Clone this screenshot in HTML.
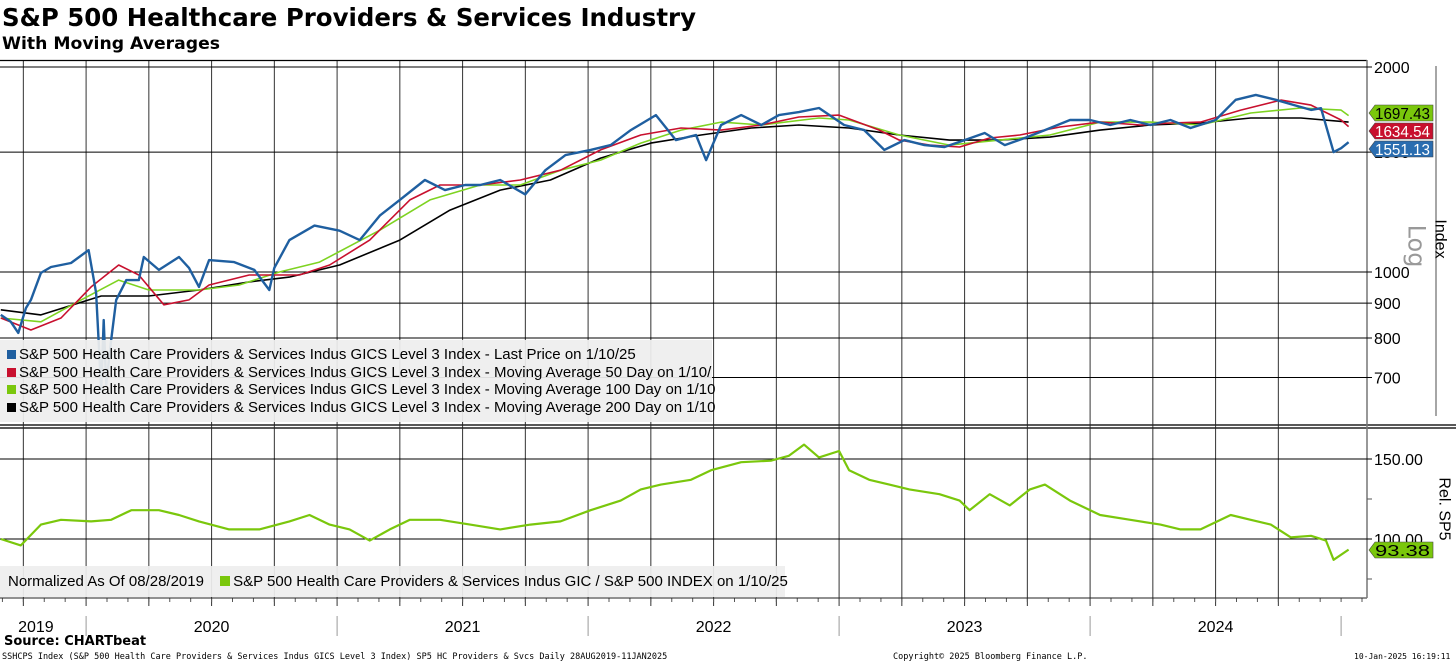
<!DOCTYPE html>
<html><head><meta charset="utf-8">
<style>
html,body{margin:0;padding:0;background:#fff;}
body{width:1456px;height:665px;overflow:hidden;position:relative;font-family:"DejaVu Sans","Liberation Sans",sans-serif;}
svg{position:absolute;left:0;top:0;}
</style></head>
<body>
<svg id="chart" width="1456" height="665" viewBox="0 0 1456 665" xmlns="http://www.w3.org/2000/svg">
<text x="2" y="26" font-family="DejaVu Sans, sans-serif" font-weight="bold" font-size="24.5" fill="#000" textLength="694" lengthAdjust="spacingAndGlyphs">S&amp;P 500 Healthcare Providers &amp; Services Industry</text>
<text x="2" y="49" font-family="DejaVu Sans, sans-serif" font-weight="bold" font-size="16.5" fill="#000" textLength="218" lengthAdjust="spacingAndGlyphs">With Moving Averages</text>
<g id="grid"></g>
<g id="series"></g>
<g id="overlay"></g>
</svg>
<script>
// ---------- data (decimal-year dates) ----------
const priceDates=[2019.66,2019.70,2019.73,2019.76,2019.78,2019.82,2019.86,2019.94,2020.01,2020.04,2020.06,2020.07,2020.08,2020.10,2020.12,2020.16,2020.21,2020.23,2020.29,2020.37,2020.41,2020.45,2020.49,2020.59,2020.67,2020.73,2020.75,2020.81,2020.91,2021.01,2021.09,2021.17,2021.25,2021.35,2021.43,2021.51,2021.57,2021.65,2021.75,2021.83,2021.91,2022.01,2022.09,2022.17,2022.27,2022.35,2022.43,2022.47,2022.53,2022.61,2022.69,2022.76,2022.84,2022.92,2023.02,2023.10,2023.18,2023.26,2023.34,2023.42,2023.50,2023.58,2023.66,2023.74,2023.82,2023.92,2024.00,2024.08,2024.16,2024.24,2024.32,2024.40,2024.50,2024.58,2024.66,2024.74,2024.82,2024.88,2024.92,2024.97,2025.00,2025.03];
const priceValues=[865,845,814,885,910,997,1017,1031,1077,932,671,850,683,795,910,973,973,1052,1007,1052,1014,951,1041,1034,1007,941,1014,1114,1170,1150,1114,1210,1276,1365,1319,1342,1342,1365,1300,1411,1485,1511,1536,1616,1700,1562,1589,1460,1644,1700,1644,1700,1717,1741,1644,1616,1511,1562,1536,1526,1562,1600,1536,1573,1616,1672,1672,1644,1672,1644,1672,1627,1672,1790,1820,1790,1755,1730,1740,1500,1520,1551];
const ma50Dates=[2019.66,2019.78,2019.90,2020.02,2020.13,2020.21,2020.31,2020.41,2020.49,2020.65,2020.85,2020.97,2021.13,2021.29,2021.41,2021.57,2021.73,2021.89,2022.05,2022.21,2022.37,2022.53,2022.69,2022.84,2023.00,2023.16,2023.24,2023.36,2023.48,2023.60,2023.72,2023.88,2024.04,2024.20,2024.32,2024.44,2024.60,2024.76,2024.88,2025.00,2025.03];
const ma50Values=[856,822,856,951,1024,990,895,910,957,990,990,1024,1114,1276,1342,1342,1365,1411,1511,1589,1627,1616,1644,1689,1700,1616,1562,1536,1526,1573,1589,1633,1660,1644,1655,1660,1729,1788,1758,1672,1635];
const ma100Dates=[2019.66,2019.82,2019.98,2020.13,2020.25,2020.45,2020.61,2020.77,2020.93,2021.17,2021.37,2021.57,2021.73,2021.89,2022.05,2022.21,2022.37,2022.53,2022.69,2022.92,2023.04,2023.24,2023.44,2023.64,2023.84,2024.04,2024.24,2024.44,2024.64,2024.84,2025.00,2025.03];
const ma100Values=[856,845,910,973,941,941,957,1000,1034,1152,1276,1342,1342,1411,1460,1546,1616,1660,1644,1683,1672,1589,1536,1562,1589,1660,1660,1644,1712,1741,1729,1697];
const ma200Dates=[2019.66,2019.82,2020.06,2020.25,2020.45,2020.65,2020.81,2021.01,2021.25,2021.45,2021.65,2021.85,2022.05,2022.25,2022.45,2022.65,2022.84,2023.04,2023.24,2023.44,2023.64,2023.84,2024.04,2024.24,2024.44,2024.64,2024.84,2025.03];
const ma200Values=[880,865,922,922,941,967,983,1024,1114,1233,1319,1365,1470,1546,1589,1627,1644,1627,1589,1562,1562,1578,1616,1644,1655,1683,1683,1660];
const relDates=[2019.66,2019.74,2019.82,2019.90,2020.02,2020.10,2020.18,2020.29,2020.37,2020.45,2020.57,2020.69,2020.81,2020.89,2020.97,2021.05,2021.13,2021.21,2021.29,2021.41,2021.53,2021.65,2021.77,2021.89,2022.01,2022.13,2022.21,2022.29,2022.41,2022.49,2022.61,2022.73,2022.80,2022.86,2022.92,2023.00,2023.04,2023.12,2023.20,2023.28,2023.40,2023.48,2023.52,2023.60,2023.68,2023.76,2023.82,2023.92,2024.04,2024.16,2024.28,2024.36,2024.44,2024.56,2024.64,2024.72,2024.80,2024.88,2024.94,2024.97,2025.03];
const relValues=[100,96,109,112,111,112,118,118,115,111,106,106,111,115,109,106,99,106,112,112,109,106,109,111,118,124,131,134,137,143,148,149,152,159,151,155,143,137,134,131,128,124,118,128,121,131,134,124,115,112,109,106,106,115,112,109,101,102,99,87,93.38];
const yTicksTop=[2000,1500,1000,900,800,700];
const yTicksBot=[150,100];
const yearLabels=["2019","2020","2021","2022","2023","2024"];
const yearCenters=[2019.80,2020.50,2021.50,2022.50,2023.50,2024.50];
const lastPrice=1551.13, lastMa50=1634.54, lastMa100=1697.43, lastRel=93.38;

// ---------- scales ----------
const X0=0, XT0=2019.657, PXY=251;
function x(t){return X0+(t-XT0)*PXY;}
function yTop(v){return 272-Math.log10(v/1000)*681;}
function yBot(v){return 539-(v-100)*1.6;}
const NS="http://www.w3.org/2000/svg";
function mk(tag,attrs,parent,text){const e=document.createElementNS(NS,tag);for(const k in attrs)e.setAttribute(k,attrs[k]);if(text!==undefined)e.textContent=text;parent.appendChild(e);return e;}
const grid=document.getElementById('grid'),series=document.getElementById('series'),ov=document.getElementById('overlay');
const RX=1367;

for(let yr=2019;yr<=2024;yr++){for(let q=0;q<4;q++){const t=yr+q*0.25;const xx=x(t);if(xx<1||xx>RX-2)continue;
 const l=mk('line',{x1:xx,x2:xx,y1:60,y2:598,stroke:'#333','stroke-width':1},grid);
 
 
 const tk=mk('line',{x1:xx,x2:xx,y1:598,y2:606,stroke:'#333','stroke-width':1},grid);
 
 }}
for(let m=0;m<70;m++){const t=2019+8/12+m/12;const xx=x(t);if(xx<1||xx>RX)continue;mk('line',{x1:xx,x2:xx,y1:598,y2:602,stroke:'#555','stroke-width':1},grid);}
mk('line',{x1:0,x2:RX,y1:60.5,y2:60.5,stroke:'#000','stroke-width':1.2},grid);
mk('line',{x1:0,x2:1456,y1:425,y2:425,stroke:'#222','stroke-width':1.5},grid);
mk('line',{x1:0,x2:1456,y1:428,y2:428,stroke:'#222','stroke-width':1.5},grid);
mk('line',{x1:0,x2:RX,y1:598,y2:598,stroke:'#222','stroke-width':1},grid);
mk('line',{x1:RX,x2:RX,y1:60,y2:598,stroke:'#777','stroke-width':1.5},grid);
mk('line',{x1:1436,x2:1436,y1:66,y2:416,stroke:'#888','stroke-width':1.5},grid);

yTicksTop.forEach(v=>{const yy=yTop(v);
 const g=mk('line',{x1:0,x2:RX+5,y1:yy,y2:yy,stroke:'#000','stroke-width':1},grid);
 
 
 const t=mk('text',{x:1374,y:yy+6,'font-size':16,'font-family':'Liberation Sans, sans-serif',fill:'#000'},grid,String(v));
 
 });
[125,75].forEach(v=>{mk('line',{x1:RX,x2:RX+5,y1:yBot(v),y2:yBot(v),stroke:'#555'},grid);});
yTicksBot.forEach(v=>{const yy=yBot(v);
 const g=mk('line',{x1:0,x2:RX+5,y1:yy,y2:yy,stroke:'#000','stroke-width':1},grid);
 
 
 const t=mk('text',{x:1374,y:yy+6,'font-size':16,'font-family':'Liberation Sans, sans-serif',fill:'#000'},grid,v.toFixed(2));
 
 });

function line(dates,vals,ys,color,w,name){const d=dates.map((t,i)=>(i?'L':'M')+x(t).toFixed(1)+','+ys(vals[i]).toFixed(1)).join('');
 const p=mk('path',{d:d,fill:'none',stroke:color,'stroke-width':w,'stroke-linejoin':'round'},series);
 
 }
line(ma200Dates,ma200Values,yTop,'#000',1.6,'ma200-line');
line(ma100Dates,ma100Values,yTop,'#7ed321',1.6,'ma100-line');
line(ma50Dates,ma50Values,yTop,'#c8102e',1.6,'ma50-line');
line(priceDates,priceValues,yTop,'#1f5fa0',2.4,'price-line');
line(relDates,relValues,yBot,'#7ac70c',2.2,'relative-line');

function tag(v,yy,color,txtcolor,name){const g=mk('g',{},ov);
 
 
 mk('polygon',{points:`${RX+2},${yy} ${RX+8},${yy-8} 1433,${yy-8} 1433,${yy+8} ${RX+8},${yy+8}`,fill:color,stroke:'#444','stroke-width':0.6},g);
 mk('text',{x:1375,y:yy+6,'font-size':16,'font-family':'Liberation Sans, sans-serif',fill:txtcolor,textLength:55,lengthAdjust:'spacingAndGlyphs'},g,v.toFixed(2));}
tag(lastMa100,113,'#7ac70c','#000','ma100-value-tag');
tag(lastMa50,131,'#c8102e','#fff','ma50-value-tag');
tag(lastPrice,149,'#2a6db0','#fff','price-value-tag');
tag(lastRel,550,'#7ac70c','#000','rel-value-tag');

yearLabels.forEach((s,i)=>{const t=mk('text',{x:x(yearCenters[i]),y:632,'font-size':16,'text-anchor':'middle','font-family':'Liberation Sans, sans-serif',fill:'#000'},ov,s);
 
 });
for(let yr=2020;yr<=2025;yr++){mk('line',{x1:x(yr),x2:x(yr),y1:616,y2:636,stroke:'#999','stroke-width':1},ov);}
</script>
<div style="position:absolute;left:0;top:340px;width:712px;height:82px;background:rgba(238,238,238,0.93);font-family:'Liberation Sans',sans-serif;font-size:15px;line-height:17.5px;padding-top:6px;box-sizing:border-box;">
 <div style="padding-left:7px;white-space:nowrap;"><span style="display:inline-block;width:9px;height:9px;background:#1f5fa0;margin-right:3px;"></span>S&amp;P 500 Health Care Providers &amp; Services Indus GICS Level 3 Index - Last Price on 1/10/25</div>
 <div style="padding-left:7px;white-space:nowrap;"><span style="display:inline-block;width:9px;height:9px;background:#c8102e;margin-right:3px;"></span>S&amp;P 500 Health Care Providers &amp; Services Indus GICS Level 3 Index - Moving Average 50 Day on 1/10/</div>
 <div style="padding-left:7px;white-space:nowrap;"><span style="display:inline-block;width:9px;height:9px;background:#7ac70c;margin-right:3px;"></span>S&amp;P 500 Health Care Providers &amp; Services Indus GICS Level 3 Index - Moving Average 100 Day on 1/10</div>
 <div style="padding-left:7px;white-space:nowrap;"><span style="display:inline-block;width:9px;height:9px;background:#000;margin-right:3px;"></span>S&amp;P 500 Health Care Providers &amp; Services Indus GICS Level 3 Index - Moving Average 200 Day on 1/10</div>
</div>
<div style="position:absolute;left:0;top:566px;width:785px;height:31px;background:rgba(238,238,238,0.93);font-family:'Liberation Sans',sans-serif;font-size:15px;line-height:31px;white-space:nowrap;">
 <span style="padding-left:8px;">Normalized As Of 08/28/2019</span>
 <span style="padding-left:12px;"><span style="display:inline-block;width:10px;height:10px;background:#7ac70c;margin-right:3px;"></span>S&amp;P 500 Health Care Providers &amp; Services Indus GIC / S&amp;P 500 INDEX on 1/10/25</span>
</div>
<div style="position:absolute;left:1395px;top:232px;transform:rotate(90deg);font-family:'DejaVu Sans',sans-serif;font-size:24px;color:#999;">Log</div>
<div style="position:absolute;left:1420px;top:230px;transform:rotate(90deg);font-family:'Liberation Sans',sans-serif;font-size:16px;">Index</div>
<div style="position:absolute;left:1412px;top:500px;transform:rotate(90deg);font-family:'Liberation Sans',sans-serif;font-size:16px;white-space:nowrap;">Rel. SP5</div>
<div style="position:absolute;left:4px;top:634px;font-family:'DejaVu Sans',sans-serif;font-weight:bold;font-size:13px;">Source: CHARTbeat</div>
<div style="position:absolute;left:2px;top:652px;font-family:'DejaVu Sans Mono','Liberation Mono',monospace;font-size:8.5px;white-space:nowrap;">SSHCPS Index (S&amp;P 500 Health Care Providers &amp; Services Indus GICS Level 3 Index) SP5 HC Providers &amp; Svcs  Daily 28AUG2019-11JAN2025</div>
<div style="position:absolute;left:893px;top:652px;font-family:'DejaVu Sans Mono','Liberation Mono',monospace;font-size:8.5px;white-space:nowrap;">Copyright© 2025 Bloomberg Finance L.P.</div>
<div style="position:absolute;left:1354px;top:652px;font-family:'DejaVu Sans Mono','Liberation Mono',monospace;font-size:8px;white-space:nowrap;">10-Jan-2025 16:19:11</div>
</body></html>
